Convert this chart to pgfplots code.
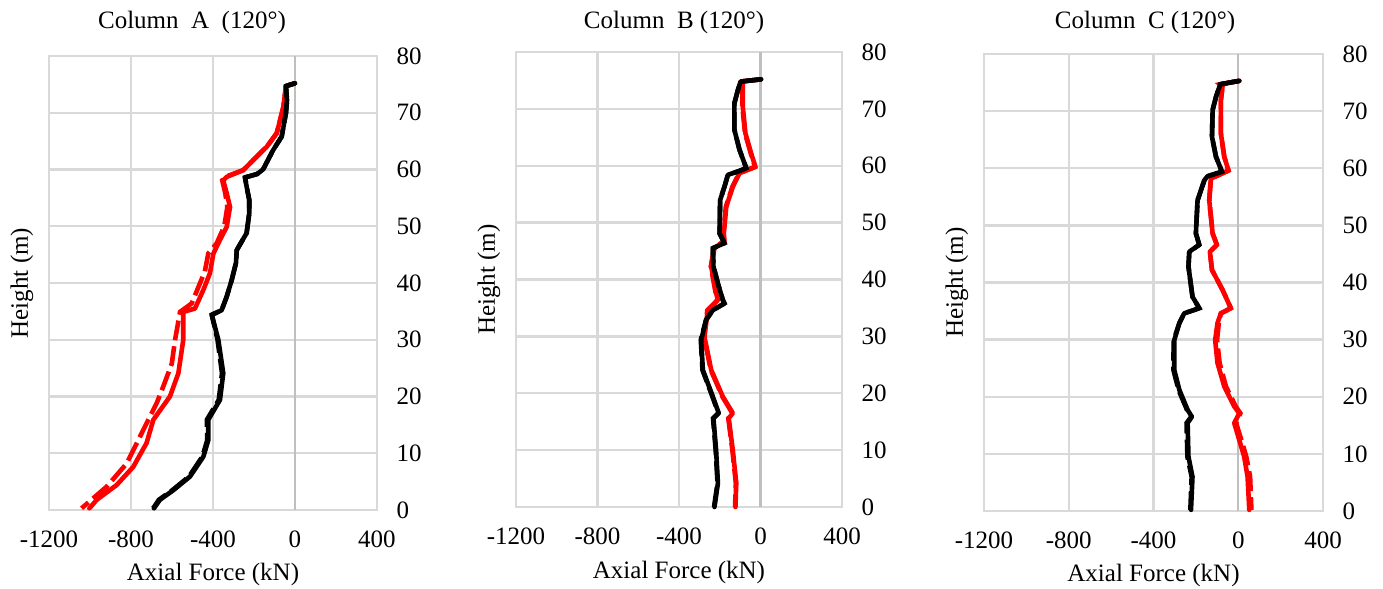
\documentclass[border=0pt]{standalone}
\usepackage{fontspec}
\setmainfont{Liberation Serif}
\usepackage{pgfplots}
\pgfplotsset{compat=1.18}

\definecolor{gridgray}{HTML}{D9D9D9}
\definecolor{zerogray}{HTML}{BFBFBF}

\pgfplotsset{
  panel/.style={
    scale only axis,
    anchor=south west,
    xmin=-1200, xmax=400, ymin=0, ymax=80,
    xtick={-1200,-800,-400,0,400},
    xticklabels={-1200,-800,-400,0,400},
    ytick={0,10,20,30,40,50,60,70,80},
    yticklabels={0,10,20,30,40,50,60,70,80},
    yticklabel pos=right,
    grid=major,
    major grid style={gridgray, line width=1.2pt},
    axis line style={gridgray, line width=1.2pt},
    major tick length=0pt,
    tick style={draw=none},
    ticklabel style={font=\fontsize{12.5}{14}\selectfont},
    xticklabel style={anchor=north, yshift=-6.8pt},
    yticklabel style={anchor=west, xshift=6.3pt},
    label style={font=\fontsize{12.5}{14}\selectfont},
    xlabel={Axial Force (kN)},
    ylabel={Height (m)},
    clip=false,
  },
  rs/.style={red, line width=2.3pt, line join=round, line cap=round},
  rd/.style={red, line width=2.3pt, dash pattern=on 10pt off 3pt},
  ks/.style={black, line width=2.3pt, line join=round, line cap=round},
  kd/.style={black, line width=2.3pt, dash pattern=on 10pt off 3pt},
}

\begin{document}
\begin{tikzpicture}
\useasboundingbox (0,0) rectangle (691.5pt,294.5pt);

% ---------------- Column A
\begin{axis}[panel, at={(24.5pt,39.5pt)}, width=164pt, height=227pt,
  xlabel style={at={(axis description cs:0.5,-0.143)}, anchor=center},
  ylabel style={at={(axis description cs:-0.0823,0.5)}, anchor=center}]
\draw[zerogray, line width=1.2pt] (axis cs:0,0) -- (axis cs:0,80);
\addplot[rd] coordinates {
(0,75.2) (-44,74.7) (-57,71) (-89,66.4) (-138,64) (-203,61.7) (-252,59.9)
(-340,58.7) (-355,58.1) (-340,55.8) (-330,53.4) (-345,50) (-382,47)
(-423,45.2) (-440,42) (-463,40) (-504,36.4) (-561,34.9) (-575,32) (-585,30)
(-601,25.8) (-640,22) (-675,18.8) (-740,14.1) (-821,8.2) (-919,4.1) (-1041,0.3)};
\addplot[rs] coordinates {
(0,75.2) (-44,74.7) (-57,71) (-89,66.4) (-138,64) (-203,61.7) (-252,59.9)
(-333,58.7) (-350,58.1) (-333,55.8) (-317,53.4) (-333,49.9) (-366,47.6)
(-398,45.2) (-415,41.7) (-447,38.8) (-488,35.5) (-545,34.9) (-545,30)
(-569,24.1) (-610,20) (-691,15.9) (-724,11.8) (-789,7.6) (-870,4.4)
(-967,1.8) (-1003,0.3)};
\addplot[kd] coordinates {
(0,75.2) (-44,74.7) (-39,72.2) (-44,70) (-65,65.8) (-107,63.4) (-156,60)
(-185,59.2) (-244,58.6) (-236,57) (-223,54.6) (-223,52.3) (-236,48.8)
(-284,45.8) (-288,43.5) (-309,40.5) (-333,37.6) (-358,35.2) (-406,34.4)
(-378,30) (-356,24.1) (-372,19.4) (-430,15.9) (-428,12.3) (-452,9.4)
(-517,5.9) (-598,3.5) (-664,1.8) (-692,0.3)};
\addplot[ks] coordinates {
(0,75.2) (-44,74.7) (-39,72.2) (-44,70) (-65,65.8) (-107,63.4) (-156,60)
(-185,59.2) (-244,58.6) (-236,57) (-223,54.6) (-223,52.3) (-236,48.8)
(-284,45.8) (-288,43.5) (-309,40.5) (-333,37.6) (-358,35.2) (-406,34.4)
(-374,30) (-350,24.1) (-366,19.4) (-423,15.9) (-423,12.3) (-447,9.4)
(-512,5.9) (-593,3.5) (-659,1.8) (-688,0.3)};
\end{axis}

% ---------------- Column B
\begin{axis}[panel, at={(258pt,41pt)}, width=163pt, height=227.5pt,
  xlabel style={at={(axis description cs:0.5,-0.143)}, anchor=center},
  ylabel style={at={(axis description cs:-0.0828,0.5)}, anchor=center}]
\draw[zerogray, line width=1.2pt] (axis cs:0,0) -- (axis cs:0,80);
\addplot[rd] coordinates {
(3,75.2) (-98,74.8) (-89,74.6) (-89,70.4) (-76,65.7) (-48,62.2) (-27,59.8)
(-105,58.7) (-138,56.3) (-170,52.8) (-182,48.1) (-179,46.8) (-228,45.5)
(-244,42.3) (-220,37.6) (-211,36.4) (-261,34.6) (-277,29.9) (-244,24.1)
(-187,19.4) (-138,16.5) (-158,15.6) (-138,10) (-121,4.2) (-125,0)};
\addplot[rs] coordinates {
(3,75.2) (-98,74.8) (-87,74.6) (-87,70.4) (-74,65.7) (-46,62.2) (-25,59.8)
(-103,58.7) (-136,56.3) (-168,52.8) (-180,48.1) (-177,46.8) (-226,45.5)
(-242,42.3) (-218,37.6) (-209,36.4) (-259,34.6) (-275,29.9) (-242,24.1)
(-185,19.4) (-136,16.5) (-156,15.6) (-136,10) (-119,4.2) (-123,0)};
\addplot[kd] coordinates {
(3,75.2) (-98,74.8) (-111,73.3) (-128,71) (-128,66.3) (-103,62.8) (-70,59.6)
(-103,59.1) (-160,58.4) (-177,56.3) (-198,54) (-201,48.1) (-177,46.4)
(-234,45.5) (-231,42.3) (-209,39.3) (-185,36.4) (-177,35.8) (-234,34.6)
(-267,32.9) (-293,29.4) (-285,24.1) (-236,19.4) (-207,16.5) (-233,15.6)
(-220,10) (-211,4.2) (-228,0)};
\addplot[ks] coordinates {
(3,75.2) (-98,74.8) (-111,73.3) (-128,71) (-128,66.3) (-103,62.8) (-70,59.6)
(-103,59.1) (-160,58.4) (-177,56.3) (-198,54) (-201,48.1) (-177,46.4)
(-234,45.5) (-231,42.3) (-209,39.3) (-185,36.4) (-177,35.8) (-234,34.6)
(-267,32.9) (-291,29.4) (-283,24.1) (-234,19.4) (-205,16.5) (-231,15.6)
(-218,10) (-209,4.2) (-226,0)};
\end{axis}

% ---------------- Column C
\begin{axis}[panel, at={(492pt,39pt)}, width=169.5pt, height=228.5pt,
  xlabel style={at={(axis description cs:0.5,-0.142)}, anchor=center},
  ylabel style={at={(axis description cs:-0.0796,0.5)}, anchor=center}]
\draw[zerogray, line width=1.2pt] (axis cs:0,0) -- (axis cs:0,80);
\addplot[rd] coordinates {
(5,75.3) (-85,74.7) (-74,74.4) (-82,71.9) (-82,66.1) (-66,62) (-46,59.6)
(-129,58.2) (-137,54.4) (-121,48.6) (-101,46.6) (-134,45.4) (-124,42.2)
(-74,38.7) (-35,35.5) (-82,34.6) (-92,32.9) (-100,29.9) (-88,25.9)
(-58,21.8) (-12,18.3) (10,17.1) (-10,15.4) (15,12.4) (38,9.5) (56,6) (62,0.2)};
\addplot[rs] coordinates {
(5,75.3) (-85,74.7) (-74,74.4) (-82,71.9) (-82,66.1) (-66,62) (-46,59.6)
(-129,58.2) (-137,54.4) (-121,48.6) (-101,46.6) (-134,45.4) (-124,42.2)
(-74,38.7) (-35,35.5) (-82,34.6) (-98,32.9) (-109,29.9) (-98,25.9)
(-66,21.8) (-19,18.3) (5,17.1) (-19,15.4) (5,12.4) (28,9.5) (44,6) (52,0.2)};
\addplot[kd] coordinates {
(5,75.3) (-85,74.7) (-105,72.5) (-121,70.2) (-124,65.5) (-105,62) (-77,59.4)
(-145,58.6) (-160,57.9) (-192,54.4) (-200,48.6) (-184,46.6) (-231,45.4)
(-235,42.8) (-216,37.5) (-184,35.5) (-255,34.6) (-278,32.9) (-305,29.9)
(-306,24.7) (-282,21.2) (-242,17.7) (-222,16.5) (-244,15.4) (-240,9.5)
(-220,6) (-226,0.2)};
\addplot[ks] coordinates {
(5,75.3) (-85,74.7) (-105,72.5) (-121,70.2) (-124,65.5) (-105,62) (-77,59.4)
(-145,58.6) (-160,57.9) (-192,54.4) (-200,48.6) (-184,46.6) (-231,45.4)
(-235,42.8) (-216,37.5) (-184,35.5) (-255,34.6) (-278,32.9) (-302,29.9)
(-302,24.7) (-278,21.2) (-239,17.7) (-219,16.5) (-239,15.4) (-235,9.5)
(-216,6) (-223,0.2)};
\end{axis}

% ---------------- titles
\begin{scope}[every node/.style={font=\fontsize{12.5}{14}\selectfont, anchor=center}]
\node at (96pt,283.5pt) {Column\ \ A\ \ (120°)};
\node at (337pt,283.5pt) {Column\ \ B (120°)};
\node at (572.5pt,283.5pt) {Column\ \ C (120°)};
\end{scope}
\end{tikzpicture}
\end{document}
